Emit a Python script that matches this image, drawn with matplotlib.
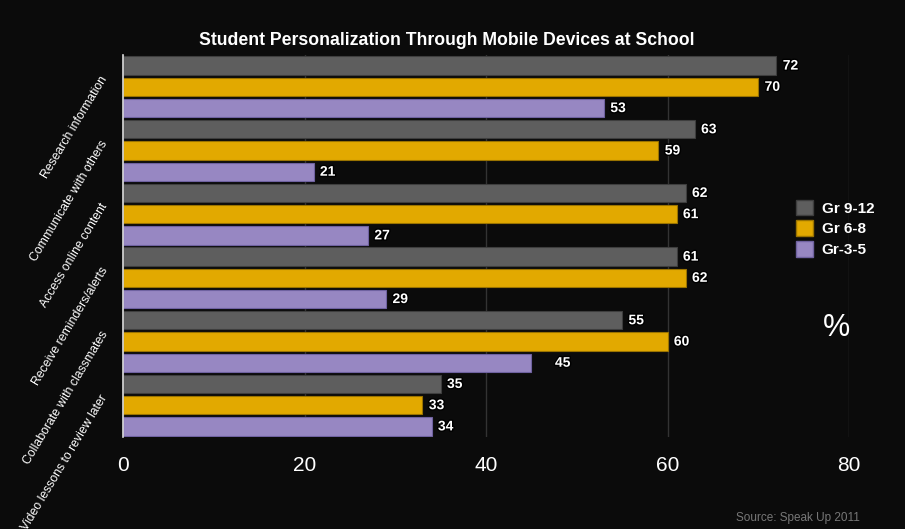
import numpy as np
import matplotlib
matplotlib.use("Agg")
import matplotlib.pyplot as plt
import matplotlib.patheffects as pe
from matplotlib.patches import Patch

# survey data (percent of students)
categories = [
    "Research information",
    "Communicate with others",
    "Access online content",
    "Receive reminders/alerts",
    "Collaborate with classmates",
    "Video lessons to review later",
]
series_names = ["Gr 9-12", "Gr 6-8", "Gr-3-5"]
gr_9_12 = [72, 63, 62, 61, 55, 35]
gr_6_8 = [70, 59, 61, 62, 60, 33]
gr_3_5 = [53, 21, 27, 29, 45, 34]
x_ticks = [0, 20, 40, 60, 80]

colors = ["#5e5e5e", "#e2a900", "#9787c2"]
edges = ["#3e3e3e", "#9a7300", "#6f62a0"]
bg = "#0b0b0b"

plt.rcParams["font.family"] = ["Liberation Sans", "DejaVu Sans"]

fig = plt.figure(figsize=(9.05, 5.29), dpi=100, facecolor=bg)
ax = fig.add_axes([123 / 905, 1 - 437 / 529, (849 - 123) / 905, (437 - 55) / 529])
ax.set_facecolor(bg)

all_series = [gr_9_12, gr_6_8, gr_3_5]
n = len(categories)
for k, vals in enumerate(all_series):
    ys = np.arange(n) * 3 + k
    ax.barh(ys, vals, height=0.86, color=colors[k], edgecolor=edges[k],
            linewidth=0.8, zorder=3)
    for y, v in zip(ys, vals):
        off = 0.7 if v != 45 else 2.6
        ax.text(v + off, y, str(v), color="white", fontsize=10, fontweight="bold",
                va="center", ha="left", zorder=4,
                path_effects=[pe.withStroke(linewidth=2, foreground="black")])

ax.set_xlim(0, 80)
ax.set_ylim(3 * n - 0.5, -0.5)
ax.set_xticks(x_ticks)
ax.set_xticklabels([str(t) for t in x_ticks], color="white", fontsize=15)
ax.tick_params(axis="x", length=0, pad=14)
ax.xaxis.grid(True, color="#333333", linewidth=1, zorder=0)

ax.set_yticks(np.arange(n) * 3 + 0.55)
ax.set_yticklabels(categories, rotation=59, ha="right", va="center",
                   rotation_mode="anchor", color="white", fontsize=8.8)
ax.tick_params(axis="y", length=0, pad=13)

for side in ["top", "right", "bottom"]:
    ax.spines[side].set_visible(False)
ax.spines["left"].set_color("#dddddd")
ax.spines["left"].set_linewidth(1.2)
ax.spines["left"].set_zorder(5)

fig.text(447 / 905, 1 - 40 / 529, "Student Personalization Through Mobile Devices at School",
         color="white", fontsize=12.7, fontweight="bold",
         ha="center", va="center")

handles = [Patch(facecolor=c, edgecolor=e) for c, e in zip(colors, edges)]
leg = fig.legend(handles, series_names, loc="upper left",
                 bbox_to_anchor=(782 / 905, 1 - 186 / 529), frameon=False,
                 handlelength=1.1, handleheight=1.2, handletextpad=0.6,
                 labelspacing=0.3, prop={"weight": "bold", "size": 11})
for t in leg.get_texts():
    t.set_color("white")

fig.text(836 / 905, 1 - 328 / 529, "%", color="white", fontsize=22,
         ha="center", va="center")
fig.text(860 / 905, 1 - 518 / 529, "Source: Speak Up 2011", color="#777777",
         fontsize=8.5, ha="right", va="center")

fig.savefig("out.png", dpi=100, facecolor=bg)
